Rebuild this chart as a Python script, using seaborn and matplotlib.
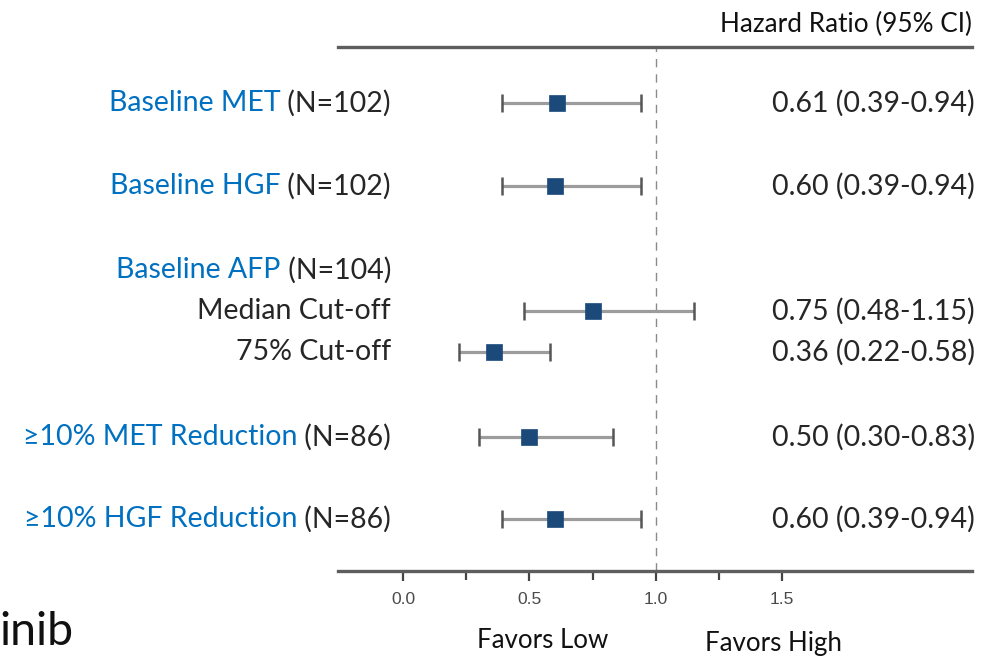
import matplotlib
matplotlib.use("Agg")
import matplotlib.pyplot as plt
import matplotlib.transforms as mtransforms
import numpy as np
import pandas as pd
import seaborn as sns

# ---- data -------------------------------------------------------------
subgroups = ["Baseline MET", "Baseline HGF", "Median Cut-off", "75% Cut-off",
             "\u226510% MET Reduction", "\u226510% HGF Reduction"]
sample_sizes = ["(N=102)", "(N=102)", "", "", "(N=86)", "(N=86)"]
hazard_ratio = [0.61, 0.60, 0.75, 0.36, 0.50, 0.60]
ci_lower = [0.39, 0.39, 0.48, 0.22, 0.30, 0.39]
ci_upper = [0.94, 0.94, 1.15, 0.58, 0.83, 0.94]
group_header = "Baseline AFP"
group_header_n = "(N=104)"
x_ticks = [0.0, 0.5, 1.0, 1.5]
x_minor_ticks = [0.25, 0.75, 1.25]

# ---- layout -----------------------------------------------------------
W, H = 990, 656
row_y = [103, 186, 311, 352, 437, 519]     # vertical row positions (px from top)
header_row_y = 270
blue_rows = [0, 1, 4, 5]

BLUE = "#0070C0"
DARK = "#262626"
NAVY = "#1B4A7A"

sns.set_theme(style="white")
plt.rcParams["font.family"] = ["Lato", "DejaVu Sans"]

fig = plt.figure(figsize=(W / 100, H / 100), dpi=100)
ax = fig.add_axes([338 / W, 1 - 571 / H, (972 - 338) / W, (571 - 47) / H])

x0_px, unit_px = 403, 252.7
ax.set_xlim(-(x0_px - 338) / unit_px, (972 - x0_px) / unit_px)
ax.set_ylim(571, 47)

df = pd.DataFrame({"hr": hazard_ratio, "lo": ci_lower, "hi": ci_upper, "y": row_y})

# reference line at HR = 1
ax.axvline(1.0, color="#8a8a8a", lw=1.0, ls=(0, (6, 5)), zorder=1)

# confidence intervals with end caps
ax.hlines(df["y"], df["lo"], df["hi"], color="#9c9c9c", lw=2.3, zorder=2)
caps = pd.concat([df[["lo", "y"]].rename(columns={"lo": "x"}),
                  df[["hi", "y"]].rename(columns={"hi": "x"})])
sns.scatterplot(data=caps, x="x", y="y", marker="|", s=150, linewidth=1.8,
                color="#555555", ax=ax, legend=False, zorder=3)

# point estimates
sns.scatterplot(data=df, x="hr", y="y", marker="s", s=135, color=NAVY,
                edgecolor=NAVY, linewidth=0.5, ax=ax, legend=False, zorder=4)

# axes styling
for side in ["left", "right"]:
    ax.spines[side].set_visible(False)
for side in ["top", "bottom"]:
    ax.spines[side].set_color("#5e5e5e")
    ax.spines[side].set_linewidth(2.4)
ax.set_yticks([])
ax.set_xticks(x_ticks)
ax.set_xticklabels([f"{t:.1f}" for t in x_ticks], fontsize=12.5,
                   color="#4a4a4a", family="Liberation Sans")
ax.set_xticks(x_minor_ticks, minor=True)
ax.tick_params(axis="x", which="major", direction="out", length=7.5, width=1.6,
               color="#444444", pad=7.5, bottom=True)
ax.tick_params(axis="x", which="minor", direction="out", length=6.5, width=1.6,
               color="#444444", bottom=True)
ax.set_xlabel("")
ax.set_ylabel("")

# text columns
trans_left = mtransforms.blended_transform_factory(fig.transFigure, ax.transData)
FS = 20.5


def two_tone(y, blue_txt, dark_txt):
    dark = ax.text(391 / W, y, " " + dark_txt, transform=trans_left,
                   ha="right", va="center", fontsize=FS, color=DARK)
    ax.annotate(blue_txt, xy=(0, 0), xycoords=dark, ha="right", va="bottom",
                fontsize=FS, color=BLUE, annotation_clip=False)


for i, (name, n) in enumerate(zip(subgroups, sample_sizes)):
    if i in blue_rows:
        two_tone(row_y[i], name, n)
    else:
        ax.text(391 / W, row_y[i], name, transform=trans_left, ha="right",
                va="center", fontsize=FS, color=DARK)
    label = f"{hazard_ratio[i]:.2f} ({ci_lower[i]:.2f}-{ci_upper[i]:.2f})"
    ax.text(975 / W, row_y[i], label, transform=trans_left, ha="right",
            va="center", fontsize=FS, color=DARK)

two_tone(header_row_y, group_header, group_header_n)

fig.text(972 / W, 1 - 24 / H, "Hazard Ratio (95% CI)", ha="right",
         va="center", fontsize=18.8, color="#111111")
fig.text(543 / W, 1 - 640 / H, "Favors Low", ha="center", va="center",
         fontsize=18.6, color="#111111")
fig.text(773 / W, 1 - 643 / H, "Favors High", ha="center", va="center",
         fontsize=18.6, color="#111111")
fig.text(-1 / W, 1 - 645 / H, "inib", ha="left", va="baseline",
         fontsize=33.5, color="#111111")

fig.savefig("out.png", dpi=100)
